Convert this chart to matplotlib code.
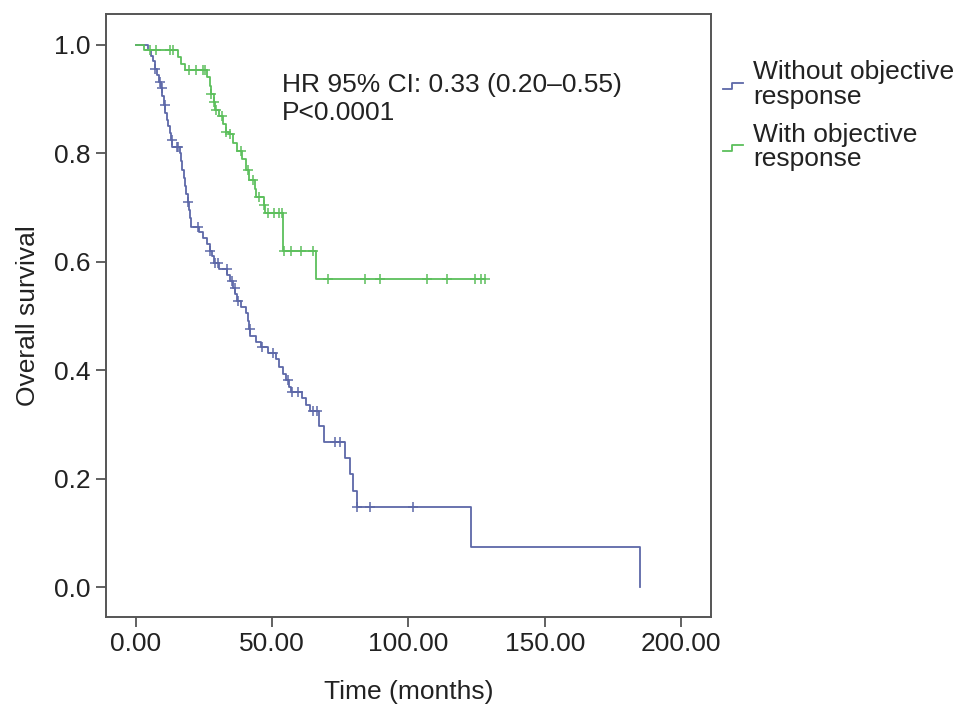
import numpy as np
import matplotlib
matplotlib.use("Agg")
import matplotlib.pyplot as plt
from matplotlib.legend_handler import HandlerBase
from matplotlib.lines import Line2D

plt.rcParams['font.family'] = ['Liberation Sans', 'DejaVu Sans']

# step points: (time of drop, survival after drop)
blue_t = [0, 4.5, 5.5, 6.2, 7.0, 7.6, 8.4, 9.0, 9.6, 10.2, 10.8, 11.3, 11.8, 12.3, 12.8, 13.4,
          16.0, 16.5, 17.0, 17.5, 18.0, 18.5, 19.0, 19.4, 19.8, 20.2, 23.3, 24.6, 26.0, 27.2,
          28.0, 28.8, 30.5, 33.5, 34.6, 35.5, 36.5, 37.2, 38.5, 40.5, 41.0, 41.5, 41.9, 44.0,
          46.0, 48.5, 51.5, 52.3, 54.0, 55.0, 56.2, 57.0, 61.0, 62.5, 64.0, 67.3, 69.0, 76.8,
          78.5, 79.8, 81.0, 123.0, 185.0]
blue_s = [1.0, 0.99, 0.98, 0.97, 0.955, 0.945, 0.932, 0.92, 0.905, 0.89, 0.875, 0.862, 0.85, 0.838, 0.825, 0.812,
          0.8, 0.785, 0.77, 0.755, 0.74, 0.725, 0.71, 0.695, 0.68, 0.665, 0.655, 0.643, 0.632, 0.62,
          0.61, 0.598, 0.586, 0.576, 0.564, 0.552, 0.54, 0.528, 0.517, 0.505, 0.49, 0.476, 0.463, 0.453,
          0.443, 0.432, 0.42, 0.406, 0.394, 0.382, 0.37, 0.36, 0.348, 0.336, 0.324, 0.297, 0.268, 0.238,
          0.208, 0.178, 0.148, 0.074, 0.0]
blue_cens = [7.0, 8.8, 9.4, 10.6, 13.1, 14.9, 15.5, 19.0, 22.7, 27.2, 29.0, 30.0, 33.3, 35.1, 36.3,
             37.5, 41.8, 46.1, 50.3, 55.8, 57.1, 59.4, 65.0, 66.3, 73.0, 74.9, 81.0, 85.9, 101.7]

green_t = [0, 3.0, 15.4, 16.5, 18.0, 26.0, 27.0, 27.5, 28.5, 29.0, 30.5, 32.0, 33.0, 34.0, 35.5,
           37.0, 39.0, 40.5, 41.5, 43.5, 44.0, 47.0, 47.5, 54.0, 66.0]
green_s = [1.0, 0.99, 0.978, 0.965, 0.953, 0.94, 0.925, 0.91, 0.895, 0.88, 0.868, 0.855, 0.84, 0.835, 0.82,
           0.805, 0.79, 0.77, 0.75, 0.735, 0.72, 0.705, 0.69, 0.62, 0.568]
green_end = 128.0
green_cens = [5.0, 7.5, 12.5, 13.5, 19.5, 22.0, 24.5, 25.5, 27.5, 28.5, 29.5, 31.5, 33.0, 34.5, 38.5,
              41.0, 43.0, 45.0, 47.0, 48.5, 50.5, 52.5, 53.5, 54.5, 57.0, 60.5, 65.0, 70.5, 84.0,
              89.5, 106.7, 114.0, 124.4, 126.5, 128.0]

labels = ['Without objective\nresponse', 'With objective\nresponse']
blue_col = '#5d68a8'
green_col = '#5cbf5c'
fs = 19


def step_value(times, surv, x):
    idx = np.searchsorted(times, x, side='right') - 1
    return np.array(surv)[idx]


class StepHandler(HandlerBase):
    def create_artists(self, legend, orig_handle, xdescent, ydescent, width, height, fontsize, trans):
        x = np.array([0.0, 0.45, 0.45, 1.0]) * width - xdescent
        y = np.array([0.3, 0.3, 0.6, 0.6]) * height - ydescent
        ln = Line2D(x, y, color=orig_handle.get_color(), lw=1.3, transform=trans)
        return [ln]


fig = plt.figure(figsize=(9.69, 7.18), dpi=100)
ax = fig.add_axes([0.1094, 0.1407, 0.6243, 0.8398])

# blue curve
ax.step(blue_t, blue_s, where='post', color=blue_col, lw=1.3)
ax.plot(blue_cens, step_value(blue_t, blue_s, blue_cens), '+', color=blue_col, ms=7, mew=1.1)

# green curve
gt = green_t + [green_end]
gs = green_s + [green_s[-1]]
ax.step(gt, gs, where='post', color=green_col, lw=1.3)
ax.plot(green_cens, step_value(green_t, green_s, green_cens), '+', color=green_col, ms=7, mew=1.1)

ax.set_xlim(-11, 211)
ax.set_ylim(-0.055, 1.057)
ax.set_xticks([0, 50, 100, 150, 200])
ax.set_xticklabels(['0.00', '50.00', '100.00', '150.00', '200.00'])
ax.set_yticks([0.0, 0.2, 0.4, 0.6, 0.8, 1.0])
ax.set_yticklabels(['0.0', '0.2', '0.4', '0.6', '0.8', '1.0'])
ax.tick_params(direction='out', length=7, width=1.3, color='#555555', labelsize=fs,
               labelcolor='#222222', pad=4)
for sp in ax.spines.values():
    sp.set_color('#555555')
    sp.set_linewidth(1.4)

ax.set_xlabel('Time (months)', fontsize=fs, color='#222222', labelpad=17)
ax.set_ylabel('Overall survival', fontsize=fs, color='#222222', labelpad=10)

ax.text(0.291, 0.882, 'HR 95% CI: 0.33 (0.20\u20130.55)', transform=ax.transAxes,
        fontsize=fs, color='#222222', va='center')
ax.text(0.291, 0.836, 'P<0.0001', transform=ax.transAxes,
        fontsize=fs, color='#222222', va='center')

handles = [Line2D([], [], color=blue_col), Line2D([], [], color=green_col)]
leg = fig.legend(handles, labels, loc='upper left', bbox_to_anchor=(0.7216, 0.949), frameon=False,
                 fontsize=fs, handler_map={Line2D: StepHandler()}, handlelength=0.77,
                 handletextpad=0.38, labelspacing=0.5, labelcolor='#222222')
for t in leg.get_texts():
    t.set_linespacing(1.05)

fig.savefig('out.png', dpi=100)
